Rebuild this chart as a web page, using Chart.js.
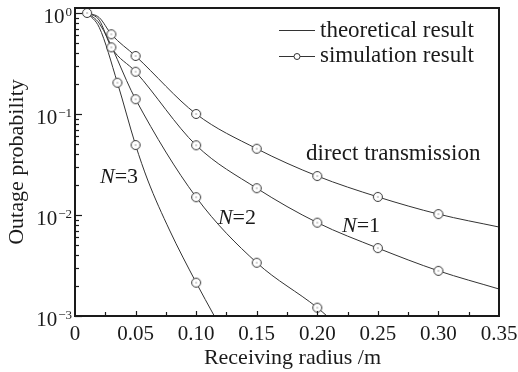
<!DOCTYPE html>
<html>
<head>
<meta charset="utf-8">
<script src="https://cdn.jsdelivr.net/npm/chart.js@4/dist/chart.umd.min.js"></script>
<style>
html, body { margin: 0; padding: 0; background: #fff; }
#wrap { width: 518px; height: 372px; }
</style>
</head>
<body>
<div id="wrap"><canvas id="outageChart" width="518" height="372"></canvas></div>
<script>
// x axis labels and y decades
const xTicks = [0, 0.05, 0.10, 0.15, 0.20, 0.25, 0.30, 0.35];
const yDecades = [1, 0.1, 0.01, 0.001];
const yExponents = ['0', '\u22121', '\u22122', '\u22123'];

// theoretical curves
const directX = [0.01, 0.02, 0.03, 0.05, 0.10, 0.15, 0.20, 0.25, 0.30, 0.35];
const directY = [1, 0.9, 0.615, 0.375, 0.1, 0.0453, 0.0243, 0.0151, 0.0102, 0.0076];
const n1X = [0.01, 0.02, 0.03, 0.05, 0.10, 0.15, 0.20, 0.25, 0.30, 0.35];
const n1Y = [1, 0.85, 0.457, 0.262, 0.049, 0.0184, 0.0084, 0.0047, 0.0028, 0.00185];
const n2X = [0.01, 0.02, 0.05, 0.10, 0.15, 0.20, 0.208];
const n2Y = [1, 0.79, 0.14, 0.015, 0.00337, 0.00121, 0.001];
const n3X = [0.01, 0.02, 0.035, 0.05, 0.06, 0.078, 0.10, 0.115];
const n3Y = [1, 0.72, 0.204, 0.0493, 0.0222, 0.0071, 0.00214, 0.001];

// simulation points
const simDirectX = [0.01, 0.03, 0.05, 0.10, 0.15, 0.20, 0.25, 0.30];
const simDirectY = [1, 0.615, 0.375, 0.1, 0.0453, 0.0243, 0.0151, 0.0102];
const simN1X = [0.03, 0.05, 0.10, 0.15, 0.20, 0.25, 0.30];
const simN1Y = [0.457, 0.262, 0.049, 0.0184, 0.0084, 0.0047, 0.0028];
const simN2X = [0.05, 0.10, 0.15, 0.20];
const simN2Y = [0.14, 0.015, 0.00337, 0.00121];
const simN3X = [0.035, 0.05, 0.10];
const simN3Y = [0.204, 0.0493, 0.00214];

const serif = 'Liberation Serif';
const ink = '#1a1a1a';

function pairs(xs, ys) {
    return xs.map((x, i) => ({ x: x, y: ys[i] }));
}

function makeMarker(r) {
    const c = document.createElement('canvas');
    const s = Math.ceil(r * 2 + 3);
    c.width = s; c.height = s;
    const g = c.getContext('2d');
    g.fillStyle = '#fff';
    g.strokeStyle = '#333';
    g.lineWidth = 1;
    g.beginPath();
    g.arc(s / 2, s / 2, r, 0, Math.PI * 2);
    g.fill();
    g.stroke();
    g.fillStyle = '#444';
    g.fillRect(s / 2 - 0.5, s / 2 - 0.5, 1, 1);
    return c;
}
const marker = makeMarker(4.5);

function theoryLine(xs, ys) {
    return {
        data: pairs(xs, ys),
        borderColor: '#333',
        borderWidth: 1,
        pointRadius: 0,
        cubicInterpolationMode: 'monotone',
        fill: false,
        order: 2
    };
}
function simPoints(xs, ys) {
    return {
        data: pairs(xs, ys),
        showLine: false,
        pointStyle: marker,
        pointRadius: 5,
        order: 1
    };
}

function drawLabel(ctx, parts, x, y) {
    // parts: [text, italic]
    let cx = x;
    parts.forEach(p => {
        ctx.font = (p[1] ? 'italic ' : '') + '22px "' + serif + '"';
        ctx.fillText(p[0], cx, y);
        cx += ctx.measureText(p[0]).width;
    });
}

const framePlugin = {
    id: 'frame',
    afterDatasetsDraw(chart) {
        const ctx = chart.ctx;
        const a = chart.chartArea;
        const xs = chart.scales.x;
        const ys = chart.scales.y;
        ctx.save();
        ctx.strokeStyle = ink;

        // x ticks every 0.025, inward
        ctx.lineWidth = 1.2;
        for (let i = 1; i < 14; i++) {
            const px = Math.round(xs.getPixelForValue(i * 0.025)) + 0.5;
            ctx.beginPath();
            ctx.moveTo(px, a.bottom);
            ctx.lineTo(px, a.bottom - (i % 2 === 0 ? 5 : 4));
            ctx.stroke();
        }
        // y ticks, decades and minors
        yDecades.forEach(d => {
            for (let m = 1; m < 10; m++) {
                const v = d * m;
                if (v > ys.max || v < ys.min) continue;
                const py = Math.round(ys.getPixelForValue(v)) + 0.5;
                ctx.beginPath();
                ctx.moveTo(a.left, py);
                ctx.lineTo(a.left + (m === 1 ? 7 : 4), py);
                ctx.stroke();
            }
        });

        // frame
        ctx.lineWidth = 2;
        ctx.strokeRect(a.left, a.top, a.right - a.left, a.bottom - a.top);

        // y tick labels 10^k
        ctx.fillStyle = ink;
        ctx.textAlign = 'right';
        ctx.textBaseline = 'alphabetic';
        yDecades.forEach((d, i) => {
            const py = ys.getPixelForValue(d);
            ctx.font = '13px "' + serif + '"';
            const ew = ctx.measureText(yExponents[i]).width;
            ctx.fillText(yExponents[i], a.left - 3, py + 3);
            ctx.font = '21px "' + serif + '"';
            ctx.fillText('10', a.left - 4 - ew, py + 10);
        });

        // curve annotations
        ctx.textAlign = 'left';
        ctx.font = '23px "' + serif + '"';
        ctx.fillText('direct transmission', xs.getPixelForValue(0.1907), ys.getPixelForValue(0.0351));
        drawLabel(ctx, [['N', true], ['=3', false]], xs.getPixelForValue(0.0206), ys.getPixelForValue(0.0207));
        drawLabel(ctx, [['N', true], ['=2', false]], xs.getPixelForValue(0.118), ys.getPixelForValue(0.00815));
        drawLabel(ctx, [['N', true], ['=1', false]], xs.getPixelForValue(0.2204), ys.getPixelForValue(0.00679));

        // legend
        const lx0 = 279, lx1 = 315;
        ctx.lineWidth = 1;
        ctx.strokeStyle = '#333';
        ctx.beginPath();
        ctx.moveTo(lx0, 30.5); ctx.lineTo(lx1, 30.5);
        ctx.moveTo(lx0, 56.5); ctx.lineTo(lx1, 56.5);
        ctx.stroke();
        ctx.fillStyle = '#fff';
        ctx.beginPath();
        ctx.arc((lx0 + lx1) / 2, 56.5, 3, 0, Math.PI * 2);
        ctx.fill();
        ctx.stroke();
        ctx.fillStyle = ink;
        ctx.font = '23px "' + serif + '"';
        ctx.fillText('theoretical result', 320, 37);
        ctx.fillText('simulation result', 320, 62);
        ctx.restore();
    }
};

new Chart(document.getElementById('outageChart'), {
    type: 'line',
    data: {
        datasets: [
            theoryLine(directX, directY),
            theoryLine(n1X, n1Y),
            theoryLine(n2X, n2Y),
            theoryLine(n3X, n3Y),
            simPoints(simDirectX, simDirectY),
            simPoints(simN1X, simN1Y),
            simPoints(simN2X, simN2Y),
            simPoints(simN3X, simN3Y)
        ]
    },
    options: {
        responsive: false,
        animation: false,
        devicePixelRatio: 1,
        layout: { padding: { top: 8, right: 19, left: 0, bottom: 0 } },
        plugins: {
            legend: { display: false },
            tooltip: { enabled: false }
        },
        scales: {
            x: {
                type: 'linear',
                min: 0,
                max: 0.35,
                afterBuildTicks: s => { s.ticks = xTicks.map(v => ({ value: v })); },
                afterFit: s => { s.height = 56; },
                grid: { display: false },
                border: { display: false },
                ticks: {
                    color: ink,
                    padding: -2,
                    maxRotation: 0,
                    font: { family: serif, size: 21 },
                    callback: v => v === 0 ? '0' : v.toFixed(2)
                },
                title: {
                    display: true,
                    text: '\u2002Receiving radius /m',
                    color: ink,
                    padding: { top: 0, bottom: 1 },
                    font: { family: serif, size: 22 }
                }
            },
            y: {
                type: 'logarithmic',
                min: 0.001,
                max: 1.12,
                afterFit: s => { s.width = 75; },
                grid: { display: false },
                border: { display: false },
                ticks: { display: false },
                title: {
                    display: true,
                    text: 'Outage probability',
                    color: ink,
                    padding: { top: 4, bottom: 0 },
                    font: { family: serif, size: 22 }
                }
            }
        }
    },
    plugins: [framePlugin]
});
</script>
</body>
</html>
